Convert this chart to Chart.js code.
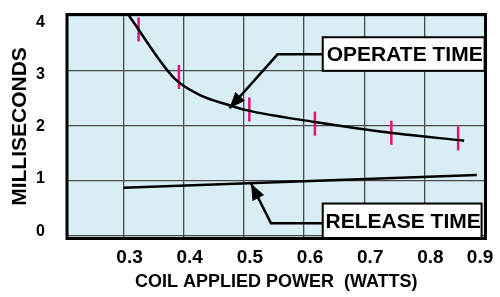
<!DOCTYPE html>
<html>
<head>
<meta charset="utf-8">
<script src="https://cdn.jsdelivr.net/npm/chart.js@4.4.0/dist/chart.umd.min.js"></script>
<style>
  body { margin: 0; background: #fff; }
  #wrap { width: 500px; height: 297px; position: relative; }
</style>
</head>
<body>
<div id="wrap"><canvas id="myChart"></canvas></div>
<script>
const FONT = "'Liberation Sans', Arial, sans-serif";

// operate time curve (watts / ms)
const operateX = [0.309, 0.385, 0.428, 0.476, 0.504, 0.618, 0.743, 0.866];
const operateY = [4.0, 2.857, 2.554, 2.375, 2.286, 2.071, 1.875, 1.732];
// pink test markers
const markX = [0.325, 0.392, 0.509, 0.618, 0.745, 0.856];
const markY = [3.75, 2.89, 2.30, 2.04, 1.875, 1.77];
// release time
const releaseX = [0.30, 0.887];
const releaseY = [0.875, 1.107];

const xTicks = [0.3, 0.4, 0.5, 0.6, 0.7, 0.8, 0.9];
const yTicks = [0, 1, 2, 3, 4];

const pts = (xs, ys) => xs.map((x, i) => ({x: x, y: ys[i]}));

const ctx = document.getElementById('myChart');

const bgPlugin = {
  id: 'bg',
  beforeDraw(chart) {
    const {ctx, chartArea: a} = chart;
    ctx.save();
    ctx.fillStyle = '#d8eef4';
    ctx.fillRect(a.left, a.top, a.right - a.left, a.bottom - a.top);
    ctx.restore();
  }
};

function arrow(ctx, pts) {
  ctx.beginPath();
  ctx.moveTo(pts[0][0], pts[0][1]);
  for (let i = 1; i < pts.length; i++) ctx.lineTo(pts[i][0], pts[i][1]);
  ctx.stroke();
  const [px, py] = pts[pts.length - 2];
  const [tx, ty] = pts[pts.length - 1];
  const ang = Math.atan2(ty - py, tx - px);
  const len = 16, w = 6.5;
  ctx.beginPath();
  ctx.moveTo(tx, ty);
  ctx.lineTo(tx - len * Math.cos(ang) + w * Math.sin(ang), ty - len * Math.sin(ang) - w * Math.cos(ang));
  ctx.lineTo(tx - len * Math.cos(ang) - w * Math.sin(ang), ty - len * Math.sin(ang) + w * Math.cos(ang));
  ctx.closePath();
  ctx.fill();
}

const notePlugin = {
  id: 'notes',
  afterDatasetsDraw(chart) {
    const {ctx, chartArea: a, scales: {x, y}} = chart;
    const X = v => x.getPixelForValue(v), Y = v => y.getPixelForValue(v);
    ctx.save();
    ctx.strokeStyle = '#000';
    ctx.fillStyle = '#000';
    ctx.lineWidth = 2.5;
    arrow(ctx, [[X(0.631), Y(3.30)], [X(0.556), Y(3.30)], [X(0.476), Y(2.32)]]);
    arrow(ctx, [[X(0.631), Y(0.23)], [X(0.545), Y(0.23)], [X(0.512), Y(0.95)]]);

    const boxes = [
      {text: 'OPERATE TIME', x0: 0.631, x1: 0.9, y0: 3.61, y1: 3.0},
      {text: 'RELEASE TIME', x0: 0.631, x1: 0.895, y0: 0.59, y1: -0.045}
    ];
    ctx.font = 'bold 21px ' + FONT;
    ctx.textAlign = 'center';
    ctx.textBaseline = 'middle';
    boxes.forEach(b => {
      const l = X(b.x0), r = X(b.x1), t = Y(b.y0), bt = Y(b.y1);
      ctx.fillStyle = '#fff';
      ctx.fillRect(l, t, r - l, bt - t);
      ctx.lineWidth = 2;
      ctx.strokeRect(l, t, r - l, bt - t);
      ctx.fillStyle = '#000';
      ctx.fillText(b.text, (l + r) / 2 + 1, (t + bt) / 2 + 1);
    });

    // frame
    ctx.lineWidth = 3;
    ctx.strokeRect(a.left, a.top, a.right - a.left, a.bottom - a.top);
    ctx.restore();
  }
};

new Chart(ctx, {
  type: 'scatter',
  data: {
    datasets: [{
      label: 'Operate',
      data: pts(operateX, operateY),
      showLine: true,
      borderColor: '#000',
      borderWidth: 2.5,
      pointRadius: 0,
      cubicInterpolationMode: 'monotone'
    }, {
      label: 'Release',
      data: pts(releaseX, releaseY),
      showLine: true,
      borderColor: '#000',
      borderWidth: 2.5,
      pointRadius: 0
    }, {
      label: 'Test',
      data: pts(markX, markY),
      showLine: false,
      pointStyle: 'line',
      rotation: 90,
      pointRadius: 12,
      borderColor: '#e4137b',
      borderWidth: 2.5
    }]
  },
  options: {
    responsive: true,
    maintainAspectRatio: false,
    animation: false,
    events: [],
    layout: { padding: {top: 11, right: 6, bottom: 0, left: 0} },
    plugins: {
      legend: { display: false },
      tooltip: { enabled: false }
    },
    scales: {
      x: {
        type: 'linear',
        min: 0.206,
        max: 0.9015,
        afterBuildTicks: s => { s.ticks = xTicks.map(v => ({value: v})); },
        afterFit: s => { s.height = 58.5; s.paddingLeft = 0; s.paddingRight = 0; },
        grid: { color: '#4a4a4a', lineWidth: 1.3, drawTicks: false },
        border: { display: false },
        ticks: {
          color: '#000',
          font: { family: FONT, size: 19, weight: 'bold' },
          padding: 8,
          labelOffset: 6,
          autoSkip: false,
          maxRotation: 0,
          callback: v => v === 0.9 ? '0.9\u00a0\u00a0\u00a0\u00a0' : v.toFixed(1)
        },
        title: {
          display: true,
          text: 'COIL APPLIED POWER  (WATTS)',
          color: '#000',
          font: { family: FONT, size: 18, weight: 'bold' },
          padding: { top: 0, bottom: 4 }
        }
      },
      y: {
        min: -0.045,
        max: 4.023,
        afterBuildTicks: s => { s.ticks = yTicks.map(v => ({value: v})); },
        afterFit: s => { s.width = 0; s.paddingTop = 0; s.paddingBottom = 0; },
        grid: { color: '#4a4a4a', lineWidth: 1.3, drawTicks: false },
        border: { display: false },
        ticks: { display: false }
      },
      yl: {
        position: 'left',
        min: -0.142,
        max: 4.16,
        afterBuildTicks: s => { s.ticks = yTicks.map(v => ({value: v})); },
        afterFit: s => { s.width = 67; s.paddingTop = 0; s.paddingBottom = 0; },
        grid: { display: false },
        border: { display: false },
        ticks: {
          color: '#000',
          font: { family: FONT, size: 16, weight: 'bold' },
          padding: 14,
          callback: v => String(v)
        },
        title: {
          display: true,
          text: 'MILLISECONDS',
          color: '#000',
          font: { family: FONT, size: 21, weight: 'bold' },
          padding: { top: 8, bottom: 0 }
        }
      }
    }
  },
  plugins: [bgPlugin, notePlugin]
});
</script>
</body>
</html>
